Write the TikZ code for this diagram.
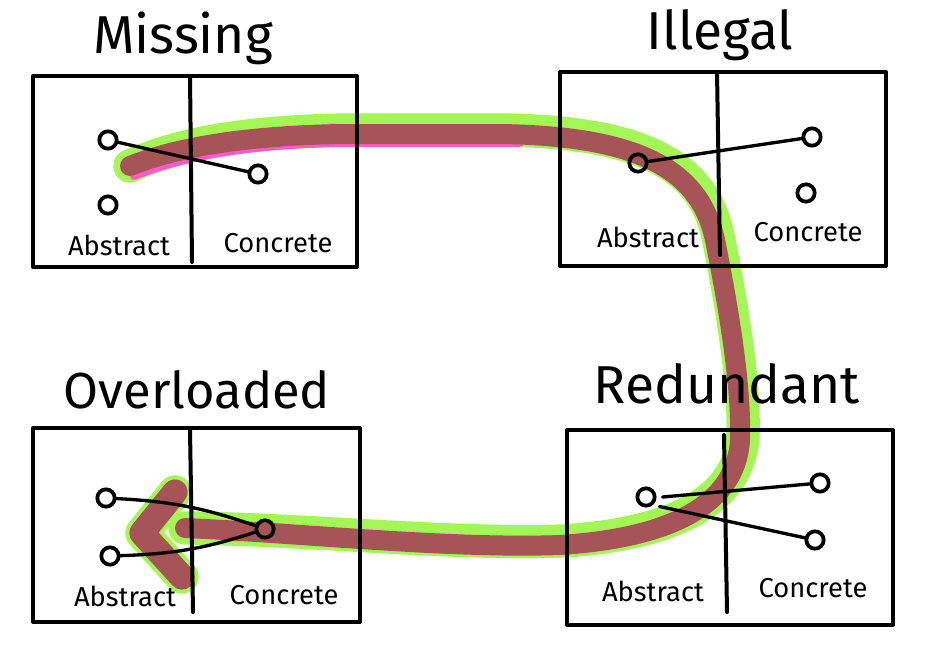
\documentclass[tikz,border=0pt]{standalone}
\usepackage{fontspec}
\setmainfont{Fira Sans}
\usetikzlibrary{positioning}
\definecolor{bandred}{HTML}{A65457}
\definecolor{bandgreen}{HTML}{A4F656}
\definecolor{bandpink}{HTML}{FF5ACD}

\begin{document}
\begin{tikzpicture}[x=0.75pt,y=-0.75pt,
    panel/.style={line width=3pt,line cap=round,line join=round},
    heading/.style={font=\fontsize{40}{40}\selectfont},
    side/.style={font=\fontsize{20.5}{20.5}\selectfont},
    dot/.style={circle,draw,line width=2.8pt,inner sep=0pt,minimum size=13pt},
    link/.style={line width=2.5pt,line cap=round},
    glow/.style={bandgreen,line width=25pt,line cap=round,line join=round},
    band/.style={bandred,line width=15pt,line cap=round,line join=round}]

  \fill[white] (0,0) rectangle (945,665);
  \useasboundingbox (0,0) rectangle (945,665);

  % the big arrow
  \coordinate (tail) at (130,166);
  \coordinate (tip) at (185,528);
  \draw[glow,shift={(3,-4)}] (tail) .. controls (175,148) and (240,136) .. (340,134)
    -- (500,134) .. controls (640,136) and (700,170) .. (715,240)
    .. controls (725,290) and (742,380) .. (740,440)
    .. controls (736,505) and (670,538) .. (560,545)
    .. controls (450,549) and (300,533) .. (tip);
  \draw[glow] (175,492) -- (142,533) -- (182,577);
  \draw[bandpink,line width=6pt,line cap=round] (134,176) .. controls (180,158) and (240,145) .. (340,143) -- (520,143);
  \draw[band] (tail) .. controls (175,148) and (240,136) .. (340,134)
    -- (500,134) .. controls (640,136) and (700,170) .. (715,240)
    .. controls (725,290) and (742,380) .. (740,440)
    .. controls (736,505) and (670,538) .. (560,545)
    .. controls (450,549) and (300,533) .. (tip);
  \draw[band,line width=19pt] (175,492) -- (142,533) -- (182,577);

  % Missing
  \node[heading] (missing) at (183,38) {Missing};
  \draw[panel] (33,76) rectangle (357,267);
  \draw[panel] (190,76) -- (192,262);
  \node[side] (m-abs) at (119,245) {Abstract};
  \node[side] (m-con) at (278,243) {Concrete};
  \node[dot] (m-a1) at (108,140) {};
  \node[dot] (m-a2) at (108,205) {};
  \node[dot] (m-c1) at (258,174) {};
  \draw[link] (m-a1) -- (m-c1);

  % Illegal
  \node[heading] (illegal) at (720,35) {Illegal};
  \draw[panel] (560,72) rectangle (886,266);
  \draw[panel] (717,72) -- (720,255);
  \node[side] (i-abs) at (648,237) {Abstract};
  \node[side] (i-con) at (808,232) {Concrete};
  \node[dot] (i-a1) at (638,163) {};
  \node[dot] (i-c1) at (812,137) {};
  \node[dot] (i-c2) at (806,193) {};
  \draw[link] (i-a1) -- (i-c1);

  % Overloaded
  \node[heading,font=\fontsize{38}{38}\selectfont] (overloaded) at (197,390) {Overloaded};
  \draw[panel] (33,428) rectangle (360,622);
  \draw[panel] (190,430) -- (193,612);
  \node[side] (o-abs) at (125,596) {Abstract};
  \node[side] (o-con) at (284,595) {Concrete};
  \node[dot] (o-a1) at (106,498) {};
  \node[dot] (o-a2) at (110,556) {};
  \node[dot] (o-c1) at (265,529) {};
  \draw[link] (o-a1) to[bend left=8] (o-c1);
  \draw[link] (o-a2) to[bend right=8] (o-c1);

  % Redundant
  \node[heading] (redundant) at (727,384) {Redundant};
  \draw[panel] (567,430) rectangle (893,625);
  \draw[panel] (724,435) -- (727,612);
  \node[side] (r-abs) at (653,591) {Abstract};
  \node[side] (r-con) at (813,588) {Concrete};
  \node[dot] (r-a1) at (646,497) {};
  \node[dot] (r-c1) at (820,483) {};
  \node[dot] (r-c2) at (815,540) {};
  \draw[link] (r-a1.east) ++(6,0) coordinate (r-out1) -- (r-c1);
  \draw[link] (r-a1.south east) ++(6,2) coordinate (r-out2) -- (r-c2);
\end{tikzpicture}
\end{document}
